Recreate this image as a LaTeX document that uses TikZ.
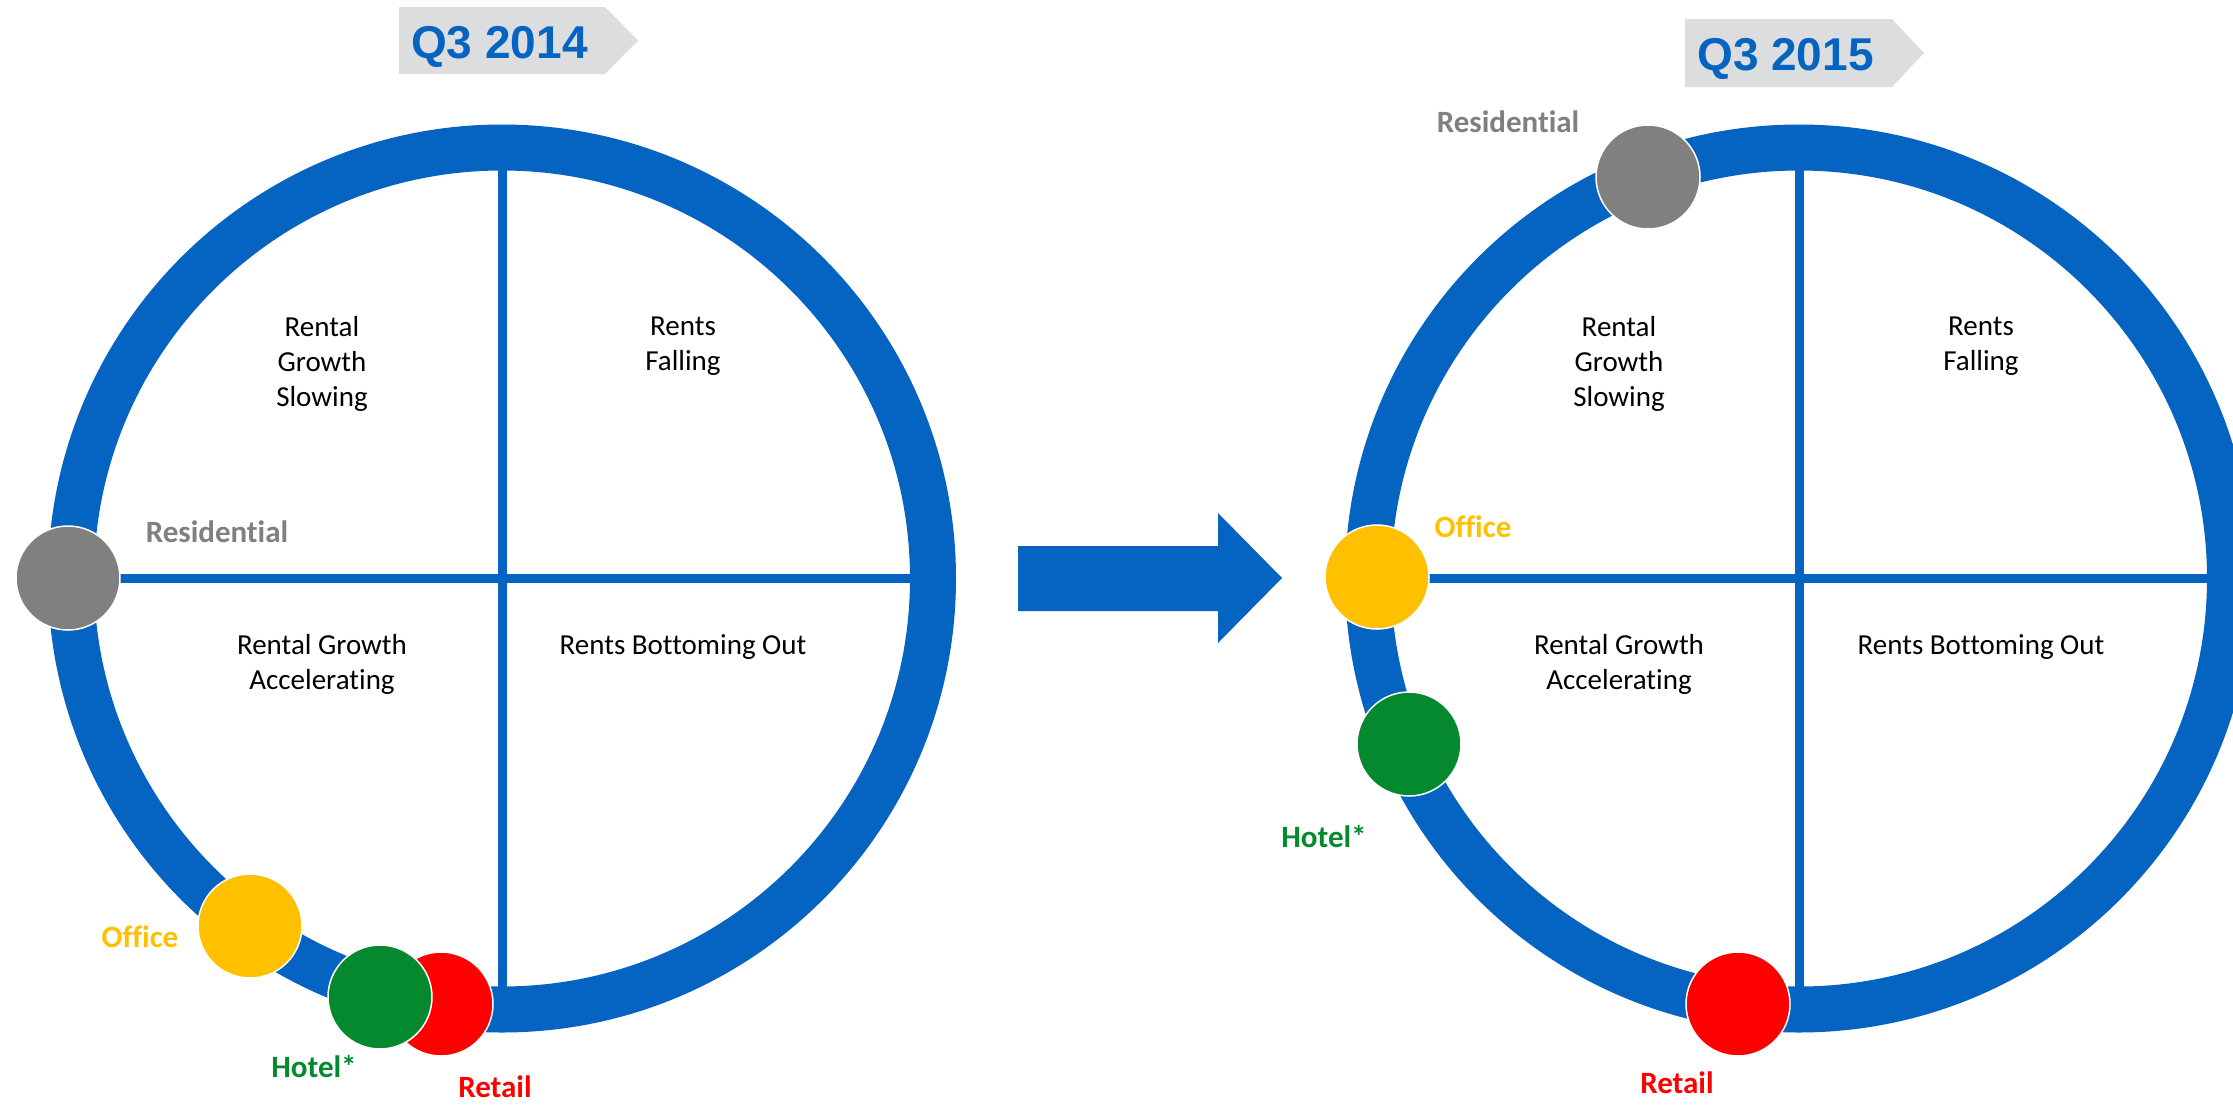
\documentclass[tikz,border=0pt]{standalone}
\usepackage{fontspec}
\setmainfont[RawFeature={-liga;-clig;-dlig}]{Carlito}
\newfontfamily\arialf{Liberation Sans}
\definecolor{ringblue}{HTML}{0563C1}
\definecolor{tagGray}{HTML}{DCDDDF}
\definecolor{resGray}{HTML}{808080}
\definecolor{offYellow}{HTML}{FFC000}
\definecolor{hotGreen}{HTML}{05892E}
\definecolor{retRed}{HTML}{FF0000}
\begin{document}
\begin{tikzpicture}[x=1pt,y=-1pt,
  ringline/.style={draw=ringblue, line width=46pt},
  divline/.style={draw=ringblue, line width=9pt},
  bubble/.style={circle, minimum size=104pt, inner sep=0pt, draw=white, line width=1.5pt},
  lbl/.style={font=\fontsize{31}{37}\selectfont\bfseries, anchor=base, inner sep=0pt},
  quad/.style={font=\fontsize{29}{35}\selectfont, align=center, text=black},
  titletext/.style={font=\arialf\bfseries\fontsize{46}{55}\selectfont, text=ringblue, anchor=base west, inner sep=0pt},
  tag/.style={fill=tagGray},
  bigarrow/.style={fill=ringblue}]
\useasboundingbox (0,0) rectangle (2233,1104);
\clip (0,0) rectangle (2233,1104);
\fill[white] (0,0) rectangle (2233,1104);

% ---------- titles ----------
\fill[tag] (399,7) -- (605,7) -- (638,40.5) -- (605,74) -- (399,74) -- cycle;
\node[titletext] (t1) at (411,58) {Q3 2014};
\fill[tag] (1685,19) -- (1892,19) -- (1924,53) -- (1892,87) -- (1685,87) -- cycle;
\node[titletext] (t2) at (1697,70) {Q3 2015};

% ---------- left cycle ----------
\coordinate (cL) at (502,578.5);
\draw[divline] (71,578) -- (933,578);
\draw[divline] (502,148) -- (502,1010);
\draw[ringline] (cL) circle (431);

\node[quad] (lq1) at (322,364) {Rental\\Growth\\Slowing};
\node[quad] (lq2) at (683,346) {Rents\\Falling};
\node[quad] (lq3) at (322,664) {Rental Growth\\Accelerating};
\node[quad] (lq4) at (683,647) {Rents Bottoming Out};

\node[bubble, fill=resGray] (lres) at (68,578) {};
\node[bubble, fill=retRed] (lret) at (441,1004) {};
\node[bubble, fill=hotGreen] (lhot) at (380,997) {};
\node[bubble, fill=offYellow] (loff) at (250,926) {};

\node[lbl, text=resGray] (lresl) at (217,542) {Residential};
\node[lbl, text=offYellow] (loffl) at (140,947) {Office};
\node[lbl, text=hotGreen] (lhotl) at (314,1077) {Hotel*};
\node[lbl, text=retRed] (lretl) at (495,1097) {Retail};

% ---------- arrow ----------
\fill[bigarrow] (1018,546) -- (1218,546) -- (1218,513) -- (1282,578) -- (1218,643) -- (1218,611) -- (1018,611) -- cycle;

% ---------- right cycle ----------
\coordinate (cR) at (1799,578.5);
\draw[divline] (1368,578) -- (2230,578);
\draw[divline] (1799,148) -- (1799,1010);
\draw[ringline] (cR) circle (431);

\node[quad] (rq1) at (1619,364) {Rental\\Growth\\Slowing};
\node[quad] (rq2) at (1981,346) {Rents\\Falling};
\node[quad] (rq3) at (1619,664) {Rental Growth\\Accelerating};
\node[quad] (rq4) at (1981,647) {Rents Bottoming Out};

\node[bubble, fill=resGray] (rres) at (1648,177) {};
\node[bubble, fill=offYellow] (roff) at (1377,577) {};
\node[bubble, fill=hotGreen] (rhot) at (1409,744) {};
\node[bubble, fill=retRed] (rret) at (1738,1004) {};

\node[lbl, text=resGray] (rresl) at (1508,132) {Residential};
\node[lbl, text=offYellow] (roffl) at (1473,537) {Office};
\node[lbl, text=hotGreen] (rhotl) at (1324,847) {Hotel*};
\node[lbl, text=retRed] (rretl) at (1677,1093) {Retail};
\end{tikzpicture}
\end{document}
